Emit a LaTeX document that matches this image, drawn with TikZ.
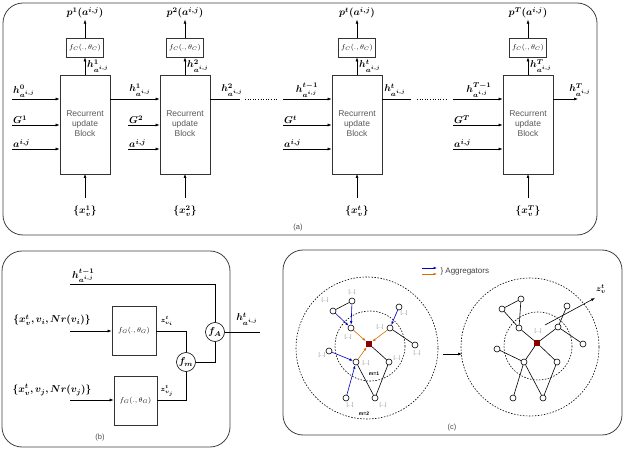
\documentclass[tikz,border=0pt]{standalone}
\usepackage{amsmath,bm}
\usepackage{fontspec}
\newfontfamily\arialf{Liberation Sans}
\usetikzlibrary{arrows.meta}
\begin{document}
\begin{tikzpicture}[x=1pt,y=-1pt,
 panel/.style={draw=black!75,line width=0.8pt,rounded corners=20pt},
 blk/.style={draw=black!80,line width=0.7pt,fill=white},
 ar/.style={-{Latex[length=4pt,width=3pt]},line width=0.6pt},
 ln/.style={line width=0.6pt},
 ml/.style={font=\fontsize{10}{11}\selectfont,inner sep=1pt},
 rub/.style={font=\arialf\fontsize{8.5}{10}\selectfont,text=black!65,align=center},
 gn/.style={circle,draw,line width=0.6pt,minimum size=6pt,inner sep=0pt,fill=white},
 dd/.style={font=\arialf\fontsize{5}{5}\selectfont,text=black!50,inner sep=0pt},
 bl/.style={-{Latex[length=3.5pt,width=2.5pt]},draw=blue!75!black,line width=0.6pt},
 or/.style={-{Latex[length=3.5pt,width=2.5pt]},draw=orange!85!black,line width=0.6pt},
 dc/.style={line width=0.6pt,dash pattern=on 1.5pt off 1.5pt},
 plab/.style={font=\arialf\fontsize{7.5}{8}\selectfont,text=black!70}]
\useasboundingbox (0,0) rectangle (640,465);
% panel a
\draw[panel] (3,3) rectangle (597,235);
\node[plab] (la) at (298,228) {(a)};
\foreach \i/\x/\s in {1/60/1,2/160/2,3/332/t,4/503/T}{
 \node[blk,minimum width=50pt,minimum height=99pt,inner sep=0pt] (b\i) at (\x+25,124.5) {};
 \node[rub] (r\i) at (\x+25,124) {Recurrent\\update\\Block};
 \node[blk,minimum width=37pt,minimum height=19pt,inner sep=0pt,font=\fontsize{7.5}{8}\selectfont] (f\i) at (\x+25,47.5) {$f_C(.,\theta_C)$};
 \coordinate (bt\i) at (\x+25,75);
 \node[ml] (p\i) at (\x+25,13) {$\bm{p^{\s}(a^{i,j})}$};
 \draw[ar] (f\i) -- (p\i);
 \draw[ar] (bt\i) -- (f\i);
 \node[ml,anchor=west] (hh\i) at (\x+26,66) {$\bm{h^{\s}_{a^{i,j}}}$};
 \node[ml] (x\i) at (\x+25,211) {$\bm{\{x_v^{\s}\}}$};
 \draw[ar] (\x+25,198) -- (\x+25,174);
}
% inputs
\foreach \i/\s/\xs in {1/1/12,2/2/128,3/t/283,4/T/453}{
 \coordinate (ig\i) at (\xs,125); \coordinate (ia\i) at (\xs,149);
 \draw[ar] (ig\i) -- (b\i.west |- ig\i);
 \draw[ar] (ia\i) -- (b\i.west |- ia\i);
 \node[ml,anchor=south west] (g\i) at (ig\i) {$\bm{G^{\s}}$};
 \node[ml,anchor=south west] (a\i) at (ia\i) {$\bm{a^{i,j}}$};
}
\coordinate (ih1) at (12,99);
\draw[ar] (ih1) -- (b1.west |- ih1);
\node[ml,anchor=south west] (h0) at (ih1) {$\bm{h^{0}_{a^{i,j}}}$};
\draw[ar] (b1.east |- ih1) -- (b2.west |- ih1);
\node[ml] (h1) at (140,90) {$\bm{h^{1}_{a^{i,j}}}$};
\coordinate (d1a) at (240,99); \coordinate (d1b) at (283,99);
\draw[ln] (b2.east |- ih1) -- (d1a);
\draw[ln,dotted] (245,99) -- (277,99);
\draw[ar] (d1b) -- (b3.west |- ih1);
\node[ml] (h2) at (232,90) {$\bm{h^{2}_{a^{i,j}}}$};
\node[ml] (h3) at (307,90) {$\bm{h^{t-1}_{a^{i,j}}}$};
\coordinate (d2a) at (411,99); \coordinate (d2b) at (453,99);
\draw[ln] (b3.east |- ih1) -- (d2a);
\draw[ln,dotted] (417,99) -- (448,99);
\draw[ar] (d2b) -- (b4.west |- ih1);
\node[ml] (h4) at (395,90) {$\bm{h^{t}_{a^{i,j}}}$};
\node[ml] (h5) at (479,90) {$\bm{h^{T-1}_{a^{i,j}}}$};
\coordinate (o4) at (578,99);
\draw[ar] (b4.east |- ih1) -- (o4);
\node[ml] (h6) at (580,90) {$\bm{h^{T}_{a^{i,j}}}$};
% panel b
\draw[panel] (2,251) rectangle (230,447);
\node[plab] (lb) at (100,438) {(b)};
\node[blk,minimum width=44pt,minimum height=49pt,inner sep=0pt,font=\fontsize{7.5}{8}\selectfont] (g1) at (134,330.5) {$f_G(.,\theta_G)$};
\node[blk,minimum width=43pt,minimum height=49pt,inner sep=0pt,font=\fontsize{7.5}{8}\selectfont] (g2) at (135.5,400.5) {$f_G(.,\theta_G)$};
\coordinate (in1) at (70,331); \coordinate (in2) at (70,400);
\draw[ar] (in1) -- (g1.west |- in1);
\draw[ar] (in2) -- (g2.west |- in2);
\node[ml] (t1) at (52,320) {$\bm{\{x_v^t,v_i,Nr(v_i)\}}$};
\node[ml] (t2) at (52,390) {$\bm{\{x_v^t,v_j,Nr(v_j)\}}$};
\node[circle,draw,line width=0.6pt,minimum size=19pt,inner sep=0pt,fill=white] (fm) at (186,362) {$\bm{f_m}$};
\node[circle,draw,line width=0.6pt,minimum size=19pt,inner sep=0pt,fill=white] (fA) at (215,332) {$\bm{f_A}$};
\draw[ln] (g1.east |- in1) -| (fm.north);
\draw[ln] (g2.east |- in2) -| (fm.south);
\draw[ln] (fm.east) -| (fA.south);
\coordinate (hs) at (70,284);
\draw[ln] (hs) -| (fA.north);
\node[ml,anchor=south west] (ht1) at (71,284) {$\bm{h^{t-1}_{a^{i,j}}}$};
\coordinate (ho) at (260,332);
\draw[ln] (fA.east) -- (ho);
\node[ml] (ht) at (247,319) {$\bm{h^{t}_{a^{i,j}}}$};
\node[ml,font=\fontsize{7.5}{8}\selectfont] (z1) at (167,321) {$\bm{z^t_{v_i}}$};
\node[ml,font=\fontsize{7.5}{8}\selectfont] (z2) at (167,391) {$\bm{z^t_{v_j}}$};
% panel c
\draw[panel] (283,250) rectangle (622,435);
\node[plab] (lc) at (452,428) {(c)};
\coordinate (lg1) at (422,268); \coordinate (lg2) at (437,268);
\coordinate (lg3) at (422,274); \coordinate (lg4) at (437,274);
\draw[bl] (lg1) -- (lg2); \draw[or] (lg3) -- (lg4);
\node[font=\arialf\fontsize{8}{9}\selectfont,text=black!75,anchor=west] (agg) at (437,271) {\} Aggregators};
\draw[dc] (367,348) circle (71);
\draw[dc] (370,346) circle (35);
\draw[dc] (530,347) circle (69);
\draw[dc] (538,346) circle (34);
\node[fill=red!55!black,minimum size=6pt,inner sep=0pt] (c0) at (369,344) {};
\node[fill=red!55!black,minimum size=6pt,inner sep=0pt] (d0) at (537,343) {};
\foreach \n/\x/\y in {A/333/311,B/352/301,C/351/328,D/399/307,E/390/328,F/415/345,G/329/351,H/356/362,I/389/362,J/346/398,K/375/398}
 \node[gn] (L\n) at (\x,\y) {};
\foreach \n/\x/\y in {A/502/309,B/521/299,C/519/328,D/567/306,E/558/327,F/583/344,G/497/349,H/524/362,I/557/362,J/513/398,K/543/398}
 \node[gn] (R\n) at (\x,\y) {};
\draw[ln] (LA) -- (LB); \draw[bl] (LA) -- (LC); \draw[bl] (LB) -- (LC);
\draw[or] (LC) -- (c0); \draw[bl] (LD) -- (LE); \draw[or] (LE) -- (c0);
\draw[ln] (LE) -- (LF); \draw[bl] (LG) -- (LH); \draw[bl] (LJ) -- (LH);
\draw[or] (LH) -- (c0); \draw[ln] (c0) -- (LI); \draw[ln] (LH) -- (LK); \draw[ln] (LI) -- (LK);
\draw[ln] (RA) -- (RB); \draw[ln] (RA) -- (RC); \draw[ln] (RB) -- (RC);
\draw[ln] (RC) -- (d0); \draw[ln] (RD) -- (RE); \draw[ln] (RE) -- (d0);
\draw[ln] (RE) -- (RF); \draw[ln] (RG) -- (RH); \draw[ln] (RJ) -- (RH);
\draw[ln] (RH) -- (d0); \draw[ln] (d0) -- (RI); \draw[ln] (RH) -- (RK); \draw[ln] (RI) -- (RK);
\foreach \k/\x/\y in {1/325/300,2/352/292,3/404/313,4/380/327,5/348/337,6/322/355,7/366/363,8/397/358,9/417/353,10/350/405,11/383/405,12/538/331}
 \node[dd] (dd\k) at (\x,\y) {[...]};
\node[font=\arialf\bfseries\fontsize{5}{5}\selectfont] (m1) at (374,374) {m=1};
\node[font=\arialf\bfseries\fontsize{5}{5}\selectfont] (m2) at (364,414) {m=2};
\coordinate (ca) at (443,354); \coordinate (cb) at (462,354);
\draw[ar] (ca) -- (cb);
\coordinate (za) at (545,325); \coordinate (zb) at (595,298);
\draw[ar] (za) -- (zb);
\node[ml,font=\fontsize{8}{8}\selectfont] (zv) at (601,289) {$\bm{z^t_v}$};
\end{tikzpicture}
\end{document}
